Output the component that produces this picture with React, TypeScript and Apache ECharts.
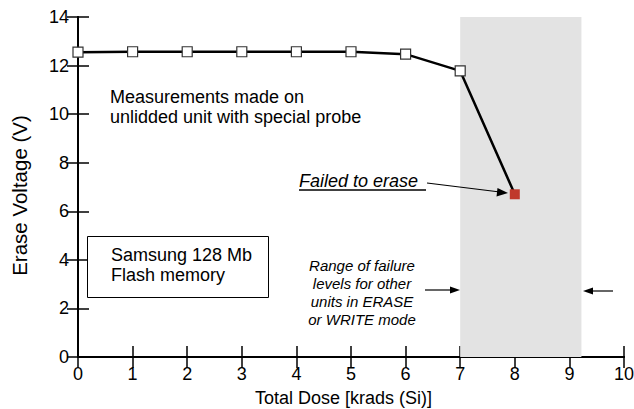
import React, { useEffect, useRef } from "react";
import * as echarts from "echarts";

const doseX = [0, 1, 2, 3, 4, 5, 6, 7, 8];
const voltageY = [12.55, 12.57, 12.57, 12.57, 12.57, 12.57, 12.47, 11.78, 6.7];
const failedIndex = 8;
const failureRange = [7, 9.22];
const xTicks = [0, 10, 1];
const yTicks = [0, 14, 2];

export default function App() {
  const ref = useRef<HTMLDivElement>(null);
  useEffect(() => {
    const chart = echarts.init(ref.current!, null, { renderer: "svg" });
    const font = "'Liberation Sans', Arial, sans-serif";
    const data = doseX.map((x, i) =>
      i === failedIndex
        ? { value: [x, voltageY[i]], itemStyle: { color: "#c0392b", borderWidth: 0 } }
        : { value: [x, voltageY[i]] }
    );
    const tickStyle = { inside: true, length: 11, lineStyle: { color: "#000", width: 1.5 } };
    const lineStyle = { lineStyle: { color: "#000", width: 2 } };
    chart.setOption({
      animation: false,
      backgroundColor: "#fff",
      grid: { left: 78, right: 10, top: 17, bottom: 52, outerBoundsMode: "none", containLabel: false },
      xAxis: [
        {
          type: "value", min: xTicks[0], max: xTicks[1], interval: xTicks[2],
          name: "Total Dose [krads (Si)]", nameLocation: "middle", nameGap: 32,
          nameTextStyle: { fontFamily: font, fontSize: 18, color: "#000", padding: [0, 15, 0, 0] },
          axisLine: lineStyle, axisTick: tickStyle, splitLine: { show: false },
          axisLabel: { fontFamily: font, fontSize: 18, color: "#000", margin: 8 },
        },
        {
          type: "value", position: "top", min: xTicks[0], max: xTicks[1], interval: xTicks[2],
          axisLine: lineStyle, axisTick: tickStyle, splitLine: { show: false },
          axisLabel: { show: false },
        },
      ],
      yAxis: [
        {
          type: "value", min: yTicks[0], max: yTicks[1], interval: yTicks[2],
          name: "Erase Voltage (V)", nameLocation: "middle", nameGap: 48,
          nameTextStyle: { fontFamily: font, fontSize: 20.5, color: "#000", padding: [0, 17, 0, 0] },
          axisLine: lineStyle, axisTick: tickStyle, splitLine: { show: false },
          axisLabel: { fontFamily: font, fontSize: 18, color: "#000", margin: 9 },
        },
        {
          type: "value", position: "right", min: yTicks[0], max: yTicks[1], interval: yTicks[2],
          axisLine: lineStyle, axisTick: tickStyle, splitLine: { show: false },
          axisLabel: { show: false },
        },
      ],
      series: [
        {
          type: "line",
          data,
          symbol: "rect",
          symbolSize: 10,
          lineStyle: { color: "#000", width: 2.5 },
          itemStyle: { color: "#fff", borderColor: "#333", borderWidth: 1.2 },
          markArea: {
            silent: true,
            itemStyle: { color: "#e3e3e3" },
            data: [[{ xAxis: failureRange[0] }, { xAxis: failureRange[1] }]],
          },
          z: 3,
        },
      ],
      graphic: {
        elements: [
          {
            type: "text", x: 110, y: 107, z: 100,
            style: { text: "Measurements made on\nunlidded unit with special probe", font: `18px ${font}`, fill: "#000", lineHeight: 20, verticalAlign: "middle" },
          },
          {
            type: "rect", z: 100, shape: { x: 87.5, y: 236.5, width: 181, height: 61 },
            style: { fill: "#fff", stroke: "#000", lineWidth: 1 },
          },
          {
            type: "text", x: 111, y: 265, z: 101,
            style: { text: "Samsung 128 Mb\nFlash memory", font: `18px ${font}`, fill: "#000", lineHeight: 20, verticalAlign: "middle" },
          },
          {
            type: "text", x: 299, y: 181, z: 100,
            style: { text: "Failed to erase", font: `italic 18px ${font}`, fill: "#000", verticalAlign: "middle" },
          },
          { type: "line", z: 100, shape: { x1: 299, y1: 190, x2: 426, y2: 190 }, style: { stroke: "#000", lineWidth: 1.3 } },
          { type: "line", z: 100, shape: { x1: 427, y1: 183, x2: 500, y2: 192 }, style: { stroke: "#000", lineWidth: 1.2 } },
          { type: "polygon", z: 100, shape: { points: [[508, 193], [497.5, 188], [496.5, 196.5]] }, style: { fill: "#000" } },
          {
            type: "text", x: 362, y: 292.5, z: 100,
            style: {
              text: "Range of failure\nlevels for other\nunits in ERASE\nor WRITE mode",
              font: `italic 15px ${font}`, fill: "#000", align: "center", verticalAlign: "middle", lineHeight: 18.3,
            },
          },
          { type: "line", z: 100, shape: { x1: 425, y1: 290, x2: 452, y2: 290 }, style: { stroke: "#000", lineWidth: 1.2 } },
          { type: "polygon", z: 100, shape: { points: [[460, 290], [450, 286.5], [450, 293.5]] }, style: { fill: "#000" } },
          { type: "line", z: 100, shape: { x1: 613, y1: 291, x2: 590, y2: 291 }, style: { stroke: "#000", lineWidth: 1.2 } },
          { type: "polygon", z: 100, shape: { points: [[583, 291], [593, 287.5], [593, 294.5]] }, style: { fill: "#000" } },
        ],
      },
    });
    return () => chart.dispose();
  }, []);
  return <div ref={ref} style={{ width: 634, height: 409, position: "absolute", left: 0, top: 0 }} />;
}
